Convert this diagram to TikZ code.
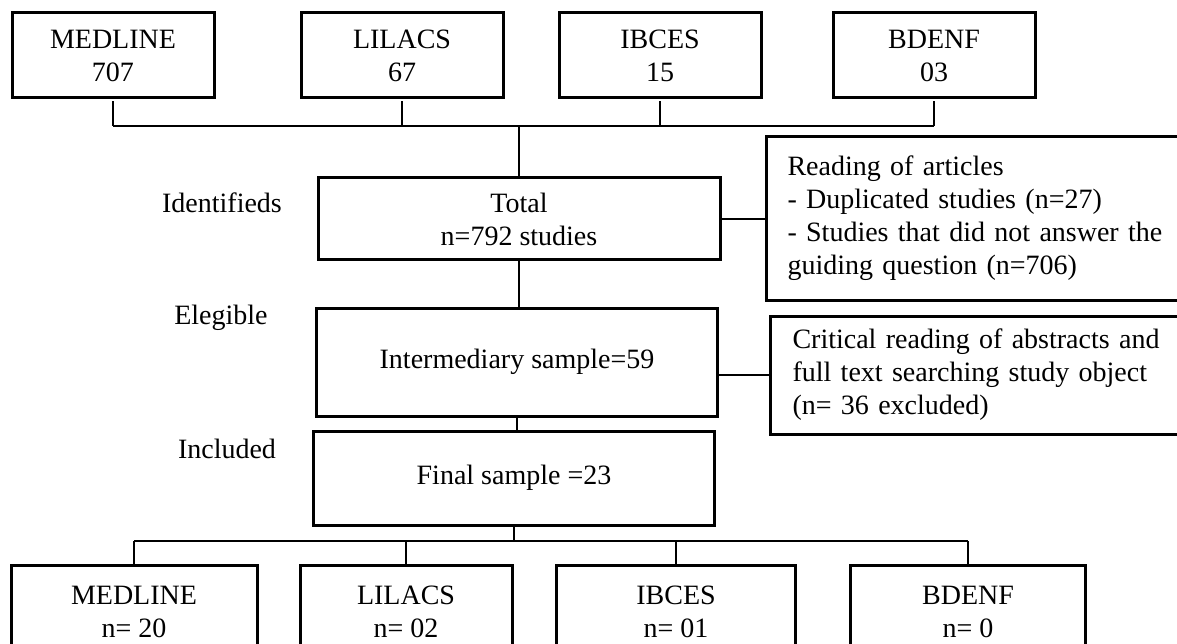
\documentclass[tikz,border=0pt]{standalone}
\usepackage{fontspec}
\setmainfont{Liberation Serif}
\usepackage{tikz}

\tikzset{
  srcbox/.style={draw, line width=3pt, minimum width=202pt, minimum height=85pt, align=center, inner sep=0pt},
  stagebox/.style={draw, line width=3pt, align=center, inner sep=0pt},
  notebox/.style={draw, line width=3pt, align=left, anchor=west, inner xsep=21pt, inner ysep=0pt},
  stagelabel/.style={inner sep=0pt},
  link/.style={line width=2.2pt}
}

\begin{document}
\begin{tikzpicture}[x=1pt, y=-1pt, font=\fontsize{28}{33}\selectfont]
  \useasboundingbox (0,0) rectangle (1177,644);

  % sources searched
  \node [srcbox] (srcmed) at (113,55.5) {MEDLINE\\707};
  \node [srcbox] (srclil) at (402,55.5) {LILACS\\67};
  \node [srcbox] (srcibc) at (660,55.5) {IBCES\\15};
  \node [srcbox] (srcbde) at (934,55.5) {BDENF\\03};
  \coordinate (topbus) at (519,126);

  % selection stages
  \node [stagebox, minimum width=402pt, minimum height=82pt] (total) at (519,219) {Total\\n=792 studies};
  \node [stagebox, minimum width=401pt, minimum height=108pt] (inter) at (517,362) {Intermediary sample=59};
  \node [stagebox, minimum width=401pt, minimum height=94pt] (final) at (514,478) {Final sample =23};

  \node [stagelabel] (lblid) at (222,203) {Identifieds};
  \node [stagelabel] (lblel) at (221,318) {Elegible};
  \node [stagelabel] (lblin) at (227,449) {Included};

  % exclusions
  \node [notebox, text width=379pt, minimum height=163pt] (reading) at (765,218.5)
    {Reading of articles\\
     - Duplicated studies (n=27)\\
     \makebox[\linewidth][s]{- Studies that did not answer the}\\
     guiding question (n=706)};
  \node [notebox, text width=371pt, minimum height=118pt, inner xsep=22pt] (crit) at (769,375)
    {\makebox[\linewidth][s]{Critical reading of abstracts and}\\
     \makebox[\linewidth][s]{full text searching study object}\\
     (n= 36 excluded)};

  % included per source
  \coordinate (botbus) at (519,541);
  \node [srcbox, minimum width=246pt, minimum height=94pt] (incmed) at (134,612) {MEDLINE\\n= 20};
  \node [srcbox, minimum width=212pt, minimum height=94pt] (inclil) at (406,612) {LILACS\\n= 02};
  \node [srcbox, minimum width=239pt, minimum height=94pt] (incibc) at (676,612) {IBCES\\n= 01};
  \node [srcbox, minimum width=235pt, minimum height=94pt] (incbde) at (968,612) {BDENF\\n= 0};

  \foreach \s in {srcmed,srclil,srcibc,srcbde}
    \draw [link] ([yshift=-2pt]\s.south) -- (\s.south |- topbus);
  \draw [link] (srcmed.south |- topbus) -- (srcbde.south |- topbus);
  \draw [link] (topbus) -- (total.north);
  \draw [link] (total.east) -- (reading.west |- total.east);
  \draw [link] (total.south) -- (total.south |- inter.north);
  \draw [link] (crit.west) -- (crit.west -| inter.east);
  \draw [link] (inter.south) -- (inter.south |- final.north);
  \draw [link] (final.south) -- (final.south |- botbus);
  \draw [link] (incmed.north |- botbus) -- (incbde.north |- botbus);
  \foreach \s in {incmed,inclil,incibc,incbde}
    \draw [link] (\s.north |- botbus) -- (\s.north);
\end{tikzpicture}
\end{document}
